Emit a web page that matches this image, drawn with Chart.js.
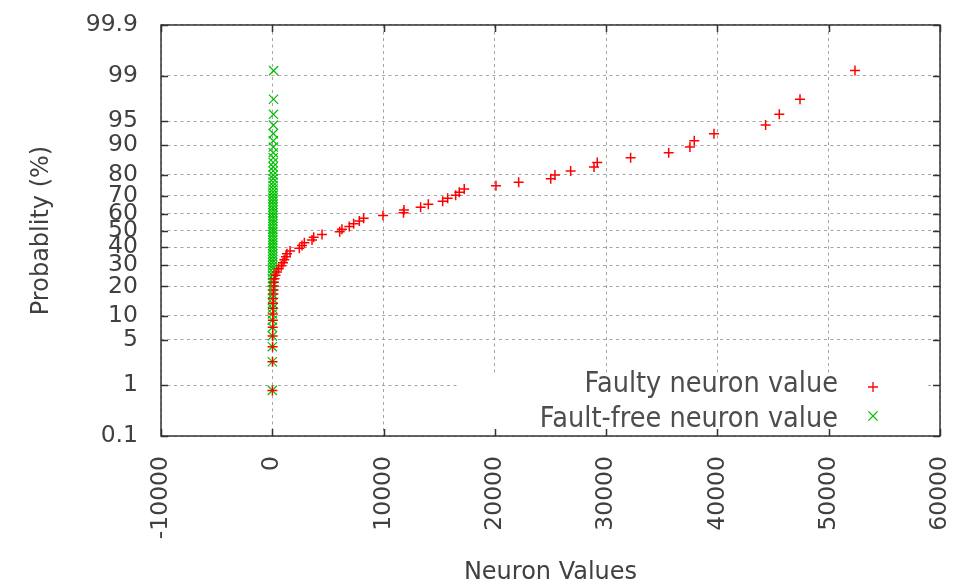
<!DOCTYPE html>
<html>
<head>
<meta charset="utf-8">
<script src="https://cdn.jsdelivr.net/npm/chart.js@4/dist/chart.umd.min.js"></script>
<style>
  html, body { margin: 0; padding: 0; background: #fff; }
  canvas { display: block; }
</style>
</head>
<body>
<canvas id="probChart" width="972" height="587"></canvas>
<script>
// normal probability plot: x = neuron value, y = cumulative probability (%)
const xTicks = [-10000, 0, 10000, 20000, 30000, 40000, 50000, 60000];
const yTickPct = [0.1, 1, 5, 10, 20, 30, 40, 50, 60, 70, 80, 90, 95, 99, 99.9];
const yTickLabels = ['0.1', '1', '5', '10', '20', '30', '40', '50', '60', '70', '80', '90', '95', '99', '99.9'];

// probability position (%) of each ranked sample
const probPct = [
  0.81, 2.42, 4.03, 5.65, 7.26, 8.87, 10.48, 12.10, 13.71, 15.32,
  16.94, 18.55, 20.16, 21.77, 23.39, 25.00, 26.61, 28.23, 29.84, 31.45,
  33.06, 34.68, 36.29, 37.90, 39.52, 41.13, 42.74, 44.35, 45.97, 47.58,
  49.19, 50.81, 52.42, 54.03, 55.65, 57.26, 58.87, 60.48, 62.10, 63.71,
  65.32, 66.94, 68.55, 70.16, 71.77, 73.39, 75.00, 76.61, 78.23, 79.84,
  81.45, 83.06, 84.68, 86.29, 87.90, 89.52, 91.13, 92.74, 94.35, 95.97,
  97.58, 99.19
];

const faultyValues = [
  10, 20, 25, 30, 40, 45, 50, 60, 70, 80,
  90, 110, 130, 150, 200, 290, 420, 580, 810, 960,
  1080, 1230, 1320, 1600, 2430, 2670, 2880, 3570, 3720, 4470,
  6060, 6260, 6920, 7310, 7820, 8210, 9950, 11790, 11830, 13330,
  14020, 15310, 15760, 16480, 16800, 17250, 20100, 22140, 25020, 25400,
  26810, 28910, 29200, 32200, 35620, 37530, 37920, 39690, 44330, 45560,
  47420, 52360
];

const faultFreeValues = [
  3, 5, 7, 9, 11, 12, 14, 16, 17, 19,
  20, 21, 23, 24, 26, 27, 28, 30, 31, 32,
  33, 35, 36, 37, 38, 40, 41, 42, 43, 45,
  46, 47, 48, 50, 51, 52, 54, 55, 57, 58,
  60, 61, 63, 65, 66, 68, 70, 72, 74, 76,
  78, 80, 83, 85, 88, 91, 94, 97, 101, 105,
  110, 118
];

const seriesLabels = ['Faulty neuron value', 'Fault-free neuron value'];
const RED = '#ff0000';
const GREEN = '#00c000';
const TXT = '#404040';

// inverse normal cdf (Acklam) -> probit axis
function probit(p) {
  const a = [-39.69683028665376, 220.9460984245205, -275.9285104469687, 138.3577518672690, -30.66479806614716, 2.506628277459239];
  const b = [-54.47609879822406, 161.5858368580409, -155.6989798598866, 66.80131188771972, -13.28068155288572];
  const c = [-0.007784894002430293, -0.3223964580411365, -2.400758277161838, -2.549732539343734, 4.374664141464968, 2.938163982698783];
  const d = [0.007784695709041462, 0.3224671290700398, 2.445134137142996, 3.754408661907416];
  const plow = 0.02425;
  let q, r;
  if (p < plow) {
    q = Math.sqrt(-2 * Math.log(p));
    return (((((c[0]*q+c[1])*q+c[2])*q+c[3])*q+c[4])*q+c[5]) / ((((d[0]*q+d[1])*q+d[2])*q+d[3])*q+1);
  }
  if (p > 1 - plow) {
    q = Math.sqrt(-2 * Math.log(1 - p));
    return -(((((c[0]*q+c[1])*q+c[2])*q+c[3])*q+c[4])*q+c[5]) / ((((d[0]*q+d[1])*q+d[2])*q+d[3])*q+1);
  }
  q = p - 0.5; r = q * q;
  return (((((a[0]*r+a[1])*r+a[2])*r+a[3])*r+a[4])*r+a[5])*q / (((((b[0]*r+b[1])*r+b[2])*r+b[3])*r+b[4])*r+1);
}

const toPoints = vals => vals.map((x, i) => ({ x: x, y: probit(probPct[i] / 100) }));

function drawMark(ctx, style, x, y, r, color) {
  ctx.save();
  ctx.strokeStyle = color; ctx.lineWidth = 1.3;
  ctx.beginPath();
  if (style === 'cross') {
    ctx.moveTo(x - r, y); ctx.lineTo(x + r, y);
    ctx.moveTo(x, y - r); ctx.lineTo(x, y + r);
  } else {
    const k = r * Math.SQRT1_2;
    ctx.moveTo(x - k, y - k); ctx.lineTo(x + k, y + k);
    ctx.moveTo(x - k, y + k); ctx.lineTo(x + k, y - k);
  }
  ctx.stroke();
  ctx.restore();
}

// keep the plot box exactly where the reference has it
function noScalePadding(s) {
  s.paddingTop = 0; s.paddingBottom = 0; s.paddingLeft = 0; s.paddingRight = 0;
}

// frame, inward ticks, legend box
const framePlugin = {
  id: 'frame',
  beforeDatasetsDraw(chart) {
    const ctx = chart.ctx;
    ctx.save(); ctx.fillStyle = '#fff';
    ctx.fillRect(460, 376, 467, chart.chartArea.bottom - 376);
    ctx.restore();
  },
  afterDatasetsDraw(chart) {
    const ctx = chart.ctx, a = chart.chartArea;
    const xs = chart.scales.x, ys = chart.scales.y;
    const tl = 7;
    ctx.save();
    ctx.strokeStyle = '#333'; ctx.lineWidth = 1.5;
    ctx.beginPath();
    xTicks.forEach(v => {
      const px = Math.round(xs.getPixelForValue(v)) + 0.5;
      ctx.moveTo(px, a.bottom); ctx.lineTo(px, a.bottom - tl);
      ctx.moveTo(px, a.top); ctx.lineTo(px, a.top + tl);
    });
    yTickPct.forEach(p => {
      const py = Math.round(ys.getPixelForValue(probit(p / 100))) + 0.5;
      ctx.moveTo(a.left, py); ctx.lineTo(a.left + tl, py);
      ctx.moveTo(a.right, py); ctx.lineTo(a.right - tl, py);
    });
    ctx.stroke();
    ctx.strokeRect(a.left, a.top, a.right - a.left, a.bottom - a.top);
    ctx.restore();
  },
  afterDraw(chart) {
    const ctx = chart.ctx;
    const rows = [
      { label: seriesLabels[0], base: 392, my: 387, style: 'cross', r: 5, color: RED },
      { label: seriesLabels[1], base: 427, my: 416, style: 'crossRot', r: 6.5, color: GREEN }
    ];
    rows.forEach(row => {
      ctx.save();
      ctx.font = '29px "DejaVu Sans"';
      ctx.fillStyle = '#4d4d4d';
      ctx.textAlign = 'right';
      ctx.textBaseline = 'alphabetic';
      ctx.translate(838, row.base);
      ctx.scale(0.885, 1);
      ctx.fillText(row.label, 0, 0);
      ctx.restore();
      drawMark(ctx, row.style, 873, row.my, row.r, row.color);
    });
  }
};

new Chart(document.getElementById('probChart').getContext('2d'), {
  type: 'scatter',
  data: {
    datasets: [
      {
        label: seriesLabels[0],
        data: toPoints(faultyValues),
        pointStyle: 'cross', pointRadius: 5, borderColor: RED, backgroundColor: RED, borderWidth: 1.5
      },
      {
        label: seriesLabels[1],
        data: toPoints(faultFreeValues),
        pointStyle: 'crossRot', pointRadius: 6.5, borderColor: GREEN, backgroundColor: GREEN, borderWidth: 1.2
      }
    ]
  },
  options: {
    responsive: false,
    animation: false,
    events: [],
    devicePixelRatio: 1,
    layout: { padding: { top: 25, right: 32, left: 0, bottom: 0 } },
    plugins: { legend: { display: false }, tooltip: { enabled: false } },
    scales: {
      x: {
        type: 'linear', min: -10000, max: 60000,
        afterFit(s) { s.height = 151; noScalePadding(s); },
        afterBuildTicks(s) { s.ticks = xTicks.map(v => ({ value: v })); },
        border: { display: false, dash: [3, 3.5] },
        grid: { color: '#a4a4a4', lineWidth: 1, drawTicks: false },
        ticks: {
          minRotation: 90, maxRotation: 90, padding: 20, autoSkip: false,
          color: TXT, font: { family: 'DejaVu Sans', size: 23.5 },
          callback: v => String(v)
        },
        title: {
          display: true, text: 'Neuron Values', color: TXT,
          font: { family: 'DejaVu Sans', size: 24, lineHeight: 1.2 },
          padding: { top: 0, bottom: 0 }
        }
      },
      y: {
        type: 'linear', min: probit(0.001), max: probit(0.999),
        afterFit(s) { s.width = 161; noScalePadding(s); },
        afterBuildTicks(s) { s.ticks = yTickPct.map(p => ({ value: probit(p / 100) })); },
        border: { display: false, dash: [3, 3.5] },
        grid: { color: '#a4a4a4', lineWidth: 1, drawTicks: false },
        ticks: {
          padding: 23, autoSkip: false, color: TXT,
          font: { family: 'DejaVu Sans', size: 23.5 },
          callback: (v, i) => yTickLabels[i]
        },
        title: {
          display: true, text: 'Probablity (%)', color: TXT,
          font: { family: 'DejaVu Sans', size: 24, lineHeight: 1.2 },
          padding: { top: 27.5, bottom: 0 }
        }
      }
    }
  },
  plugins: [framePlugin]
});
</script>
</body>
</html>
